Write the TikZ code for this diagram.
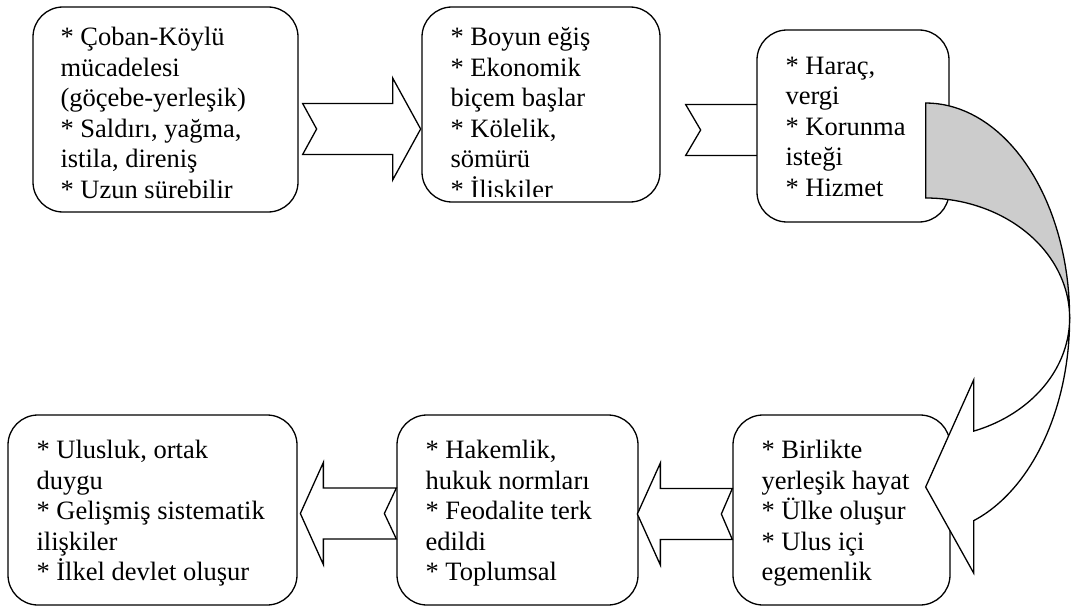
\documentclass[tikz,border=0pt]{standalone}
\usepackage{fontspec}
\setmainfont{Liberation Serif}
\usetikzlibrary{positioning}
\tikzstyle{tbox}=[draw, line width=1.3pt, rounded corners=30pt, fill=white, inner sep=0pt]
\tikzstyle{ttext}=[anchor=north west, inner sep=0pt, align=left, font=\fontsize{26.5}{30.5}\selectfont]
\tikzstyle{barrow}=[draw, line width=1.3pt, fill=white]
\tikzstyle{cback}=[draw, line width=1.3pt, fill=gray!40]
\tikzstyle{cfront}=[draw, line width=1.3pt, fill=white]
% block arrow with notched tail: tail point, length, head length, notch, direction
\newcommand{\notcharrow}[5]{%
  \draw[barrow, shift={(#1)}, xscale=#5] (0,-25.5) -- ({#2-#3},-25.5) -- ({#2-#3},-51) -- (#2,0)
    -- ({#2-#3},51) -- ({#2-#3},25.5) -- (0,25.5) -- (#4,0) -- cycle;}
\begin{document}
\begin{tikzpicture}[x=1pt, y=-1pt]
\useasboundingbox (0,0) rectangle (1072,610);
% upper row
\node [tbox, minimum width=265pt, minimum height=205pt] (b1) at (165.5,109.5) {};
\node [ttext] (t1) at ([shift={(28,14)}]b1.north west) {\rule{0pt}{25pt}* Çoban-Köylü\\ mücadelesi\\ (göçebe-yerleşik)\\ * Saldırı, yağma,\\ istila, direniş\\ * Uzun sürebilir};
\node [tbox, minimum width=238pt, minimum height=195pt, right of=b1, node distance=375.5pt, yshift=5pt] (b2) {};
\begin{scope}
\clip (b2.north west) rectangle ([shift={(0,-6)}]b2.south east);
\node [ttext] (t2) at ([shift={(29,14)}]b2.north west) {\rule{0pt}{25pt}* Boyun eğiş\\ * Ekonomik\\ biçem başlar\\ * Kölelik,\\ sömürü\\ * İliskiler};
\end{scope}
\coordinate (a1) at ([shift={(4,19.5)}]b1.east);
\notcharrow{a1}{118}{28}{14}{1}
\coordinate (a2) at ([shift={(25,25.5)}]b2.east);
\notcharrow{a2}{118}{28}{15}{1}
\node [tbox, minimum width=192pt, minimum height=192pt, right of=b2, node distance=312pt, yshift=-21.5pt] (b3) {};
\node [ttext] (t3) at ([shift={(29,19.5)}]b3.north west) {\rule{0pt}{25pt}* Haraç,\\ vergi\\ * Korunma\\ isteği\\ * Hizmet};
% lower row
\node [tbox, minimum width=289pt, minimum height=190pt, below of=b1, node distance=400.5pt, xshift=-13pt] (b6) {};
\node [ttext] (t6) at ([shift={(29,19)}]b6.north west) {\rule{0pt}{25pt}* Ulusluk, ortak\\ duygu\\ * Gelişmiş sistematik\\ ilişkiler\\ * İlkel devlet oluşur};
\node [tbox, minimum width=241pt, minimum height=190pt, right of=b6, node distance=365pt] (b5) {};
\node [ttext] (t5) at ([shift={(29,19)}]b5.north west) {\rule{0pt}{25pt}* Hakemlik,\\ hukuk normları\\ * Feodalite terk\\ edildi\\ * Toplumsal};
\node [tbox, minimum width=217pt, minimum height=190pt, right of=b5, node distance=324pt] (b4) {};
\node [ttext] (t4) at ([shift={(29,19)}]b4.north west) {\rule{0pt}{25pt}* Birlikte\\ yerleşik hayat\\ * Ülke oluşur\\ * Ulus içi\\ egemenlik};
\coordinate (a3) at ([shift={(0,3.5)}]b5.west);
\notcharrow{a3}{96}{23}{12}{-1}
\coordinate (a4) at ([shift={(0,4)}]b4.west);
\notcharrow{a4}{95}{23}{11}{-1}
% curved arrow from b3 down to b4
\coordinate (cc) at ([shift={(-24,192)}]b3.east);
\draw[cback, shift={(cc)}] plot[domain=-90:0, samples=40] ({144*cos(\x)},{215*sin(\x)})
  -- plot[domain=0:-90, samples=40] ({144*cos(\x)},{120*sin(\x)}) -- cycle;
\draw[cfront, shift={(cc)}] plot[domain=0:70.5, samples=40] ({144*cos(\x)},{215*sin(\x)})
  -- (48,255) -- (0,169) -- (48,62)
  -- plot[domain=70.5:0, samples=40] ({144*cos(\x)},{120*sin(\x)}) -- cycle;
\end{tikzpicture}
\end{document}
